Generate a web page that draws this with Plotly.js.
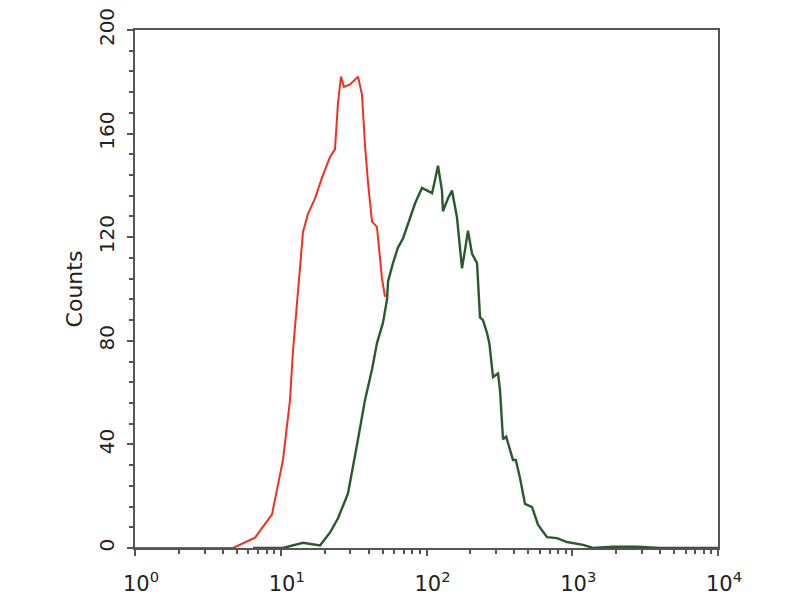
<!DOCTYPE html>
<html>
<head>
<meta charset="utf-8">
<script src="https://cdn.plot.ly/plotly-3.0.1.min.js"></script>
<style>html,body{margin:0;padding:0;background:#fff;}#chart{width:800px;height:600px;}</style>
</head>
<body>
<div id="chart"></div>
<script>
// Control (red) histogram: fluorescence intensity vs counts
const redX = [1, 4.7, 6.66, 8.71, 10.36, 11.57, 12.13, 12.92, 14.21, 15.38, 17.18, 19.19, 21.78, 23.56, 24.71, 25.9, 27.15, 29.87, 33.9, 36.1, 37.8, 39.7, 42.3, 45.7, 49.5, 51.9];
const redY = [0, 0, 4, 13, 34, 57, 76, 95, 122, 129, 135, 143, 151, 154, 172, 182, 178, 179, 182, 175, 156, 141, 126, 124, 104, 97];

// Sample (green) histogram
const greenX = [6.45, 10.36, 14.2, 18.6, 21.8, 24.7, 28.9, 31.3, 33.9, 37.8, 42.3, 45.7, 50.3, 53.6, 54.5, 58.9, 63.7, 69.0, 77.1, 83.4, 93.1, 100.7, 109.1, 114.3, 119.9, 127.7, 129.7, 140.5, 149.6, 161.9, 175.2, 183.7, 192.6, 205.3, 222.2, 232.9, 244.2, 260.2, 270, 286, 309.6, 319.3, 335, 352, 392, 410, 438, 474, 530, 582, 671, 785, 920, 1186, 1387, 1906, 2780, 4000, 10000];
const greenY = [0, 0, 2, 1, 6, 11.5, 21, 31, 42, 57, 69, 79, 87, 96, 103, 110, 116, 119.5, 127.6, 133, 139, 138, 137, 142, 147.6, 138, 130, 135, 138, 127.6, 108, 115, 122.5, 113.6, 110, 89, 88, 83, 79, 66, 67.4, 61, 42, 43, 34, 34, 27, 17, 15.8, 9, 4.2, 3.8, 2.3, 1.2, 0, 0.5, 0.5, 0, 0];

const xTickVals = [1, 10, 100, 1000, 10000];
const xTickText = ['10<sup>0</sup>', '10<sup>1</sup>', '10<sup>2</sup>', '10<sup>3</sup>', '10<sup>4</sup>'];
const yTickVals = [0, 40, 80, 120, 160, 200];

const minorX = [];
for (let d = 1; d < 10000; d *= 10) { for (let k = 2; k <= 9; k++) minorX.push(k * d); }

const traces = [
  {x: redX, y: redY, type: 'scatter', mode: 'lines', line: {color: '#f2301e', width: 2}, hoverinfo: 'skip'},
  {x: greenX, y: greenY, type: 'scatter', mode: 'lines', line: {color: '#275a2d', width: 2.4}, hoverinfo: 'skip'}
];

const layout = {
  width: 800, height: 600,
  margin: {l: 135, r: 82, t: 30, b: 52},
  paper_bgcolor: '#fff', plot_bgcolor: '#fff',
  showlegend: false,
  font: {family: 'DejaVu Sans, sans-serif', color: '#222'},
  xaxis: {
    type: 'log', range: [0, 4], tickmode: 'array', tickvals: xTickVals, ticktext: xTickText,
    ticks: 'outside', ticklen: 6, tickwidth: 2, tickcolor: '#555',
    minor: {tickmode: 'array', tickvals: minorX, ticks: 'outside', ticklen: 4, tickwidth: 2, tickcolor: '#555'},
    showline: true, linecolor: '#555', linewidth: 2, mirror: true,
    showgrid: false, zeroline: false,
    ticklabelstandoff: 10, ticklabelshift: 6,
    tickfont: {size: 21, color: '#222'}
  },
  yaxis: {
    range: [0, 200], tickmode: 'array', tickvals: yTickVals, tickangle: -90,
    ticks: 'outside', ticklen: 6, tickwidth: 2, tickcolor: '#555',
    minor: {dtick: 8, ticks: 'outside', ticklen: 4, tickwidth: 2, tickcolor: '#555'},
    showline: true, linecolor: '#555', linewidth: 2, mirror: true,
    showgrid: false, zeroline: false,
    ticklabelstandoff: 5,
    tickfont: {size: 20, color: '#222'},
    title: {text: 'Counts', font: {size: 22, color: '#222'}, standoff: 6}
  }
};

Plotly.newPlot('chart', traces, layout, {displayModeBar: false, staticPlot: true});
</script>
</body>
</html>
